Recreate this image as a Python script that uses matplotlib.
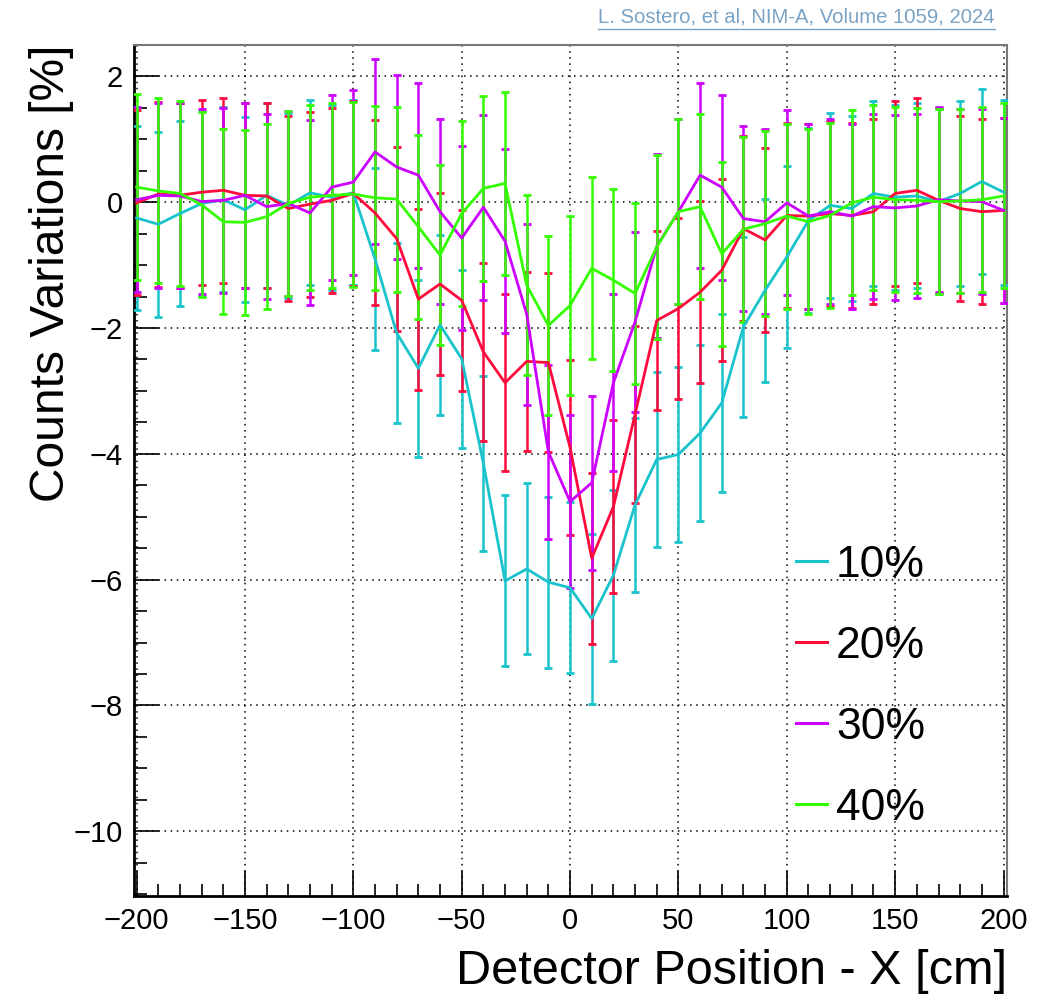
import matplotlib
matplotlib.use("Agg")
import matplotlib.pyplot as plt
from matplotlib.ticker import MultipleLocator
from matplotlib.lines import Line2D

plt.rcParams['font.family'] = ['Liberation Sans', 'DejaVu Sans']

x_pos = list(range(-200, 201, 10))

series_labels = ["10%", "20%", "30%", "40%"]
series_colors = ["#19c3cc", "#ff0a3c", "#cc00ff", "#33ff00"]

v10 = [-0.25, -0.35, -0.18, -0.02, 0.04, -0.12, 0.11, -0.05, 0.15, 0.08,
       0.15, -0.90, -2.08, -2.64, -1.95, -2.49, -4.15, -6.02, -5.83, -6.04,
       -6.13, -6.62, -5.93, -4.81, -4.09, -4.01, -3.67, -3.19, -1.98, -1.40,
       -0.87, -0.29, -0.05, -0.10, 0.14, 0.08, 0.10, 0.01, 0.14, 0.33, 0.16]
e10 = [1.47, 1.47, 1.47, 1.47, 1.47, 1.47, 1.47, 1.47, 1.47, 1.47,
       1.47, 1.45, 1.43, 1.41, 1.43, 1.42, 1.39, 1.36, 1.36, 1.36,
       1.36, 1.35, 1.36, 1.38, 1.39, 1.39, 1.40, 1.41, 1.43, 1.45,
       1.45, 1.47, 1.47, 1.47, 1.47, 1.47, 1.47, 1.47, 1.47, 1.47, 1.47]

v20 = [-0.01, 0.13, 0.11, 0.16, 0.19, 0.11, 0.10, -0.10, -0.03, 0.03,
       0.14, -0.17, -0.58, -1.54, -1.30, -1.56, -2.38, -2.87, -2.53, -2.55,
       -3.90, -5.66, -4.84, -3.37, -1.88, -1.69, -1.43, -1.08, -0.42, -0.60,
       -0.21, -0.22, -0.18, -0.21, -0.15, 0.14, 0.19, 0.03, -0.10, -0.15, -0.13]
e20 = [1.47, 1.47, 1.47, 1.47, 1.47, 1.47, 1.47, 1.47, 1.47, 1.47,
       1.47, 1.47, 1.46, 1.44, 1.45, 1.44, 1.42, 1.41, 1.42, 1.42,
       1.39, 1.36, 1.38, 1.41, 1.43, 1.44, 1.45, 1.45, 1.47, 1.46,
       1.47, 1.47, 1.47, 1.47, 1.47, 1.47, 1.47, 1.47, 1.47, 1.47, 1.47]

v30 = [0.04, 0.11, 0.10, 0.01, 0.03, 0.11, -0.07, -0.02, -0.17, 0.24,
       0.32, 0.80, 0.56, 0.43, -0.15, -0.57, -0.08, -0.62, -1.78, -3.97,
       -4.76, -4.46, -2.87, -1.90, -0.70, -0.15, 0.43, 0.24, -0.26, -0.31,
       -0.01, -0.22, -0.15, -0.22, -0.07, -0.09, -0.06, 0.04, 0.02, 0.01, -0.13]
e30 = [1.47, 1.47, 1.47, 1.47, 1.47, 1.47, 1.47, 1.47, 1.47, 1.47,
       1.47, 1.47, 1.47, 1.47, 1.47, 1.46, 1.47, 1.46, 1.44, 1.39,
       1.38, 1.38, 1.41, 1.43, 1.46, 1.47, 1.47, 1.47, 1.47, 1.47,
       1.47, 1.47, 1.47, 1.47, 1.47, 1.47, 1.47, 1.47, 1.47, 1.47, 1.47]

v40 = [0.24, 0.18, 0.14, -0.04, -0.31, -0.32, -0.23, -0.02, 0.08, 0.11,
       0.13, 0.07, 0.05, -0.39, -0.84, -0.18, 0.22, 0.30, -1.32, -1.96,
       -1.64, -1.05, -1.24, -1.45, -0.71, -0.15, -0.07, -0.82, -0.43, -0.34,
       -0.22, -0.31, -0.21, -0.01, 0.08, 0.04, 0.03, 0.01, 0.02, 0.04, 0.10]
e40 = [1.48, 1.47, 1.47, 1.47, 1.47, 1.47, 1.47, 1.47, 1.47, 1.47,
       1.47, 1.46, 1.47, 1.46, 1.43, 1.47, 1.47, 1.46, 1.43, 1.42,
       1.42, 1.45, 1.45, 1.44, 1.46, 1.47, 1.47, 1.46, 1.47, 1.47,
       1.47, 1.47, 1.47, 1.47, 1.47, 1.47, 1.47, 1.47, 1.47, 1.47, 1.47]

values = [v10, v20, v30, v40]
errors = [e10, e20, e30, e40]

fig = plt.figure(figsize=(10.5, 9.94), dpi=100)
ax = fig.add_axes([134 / 1050, 98 / 994, 873 / 1050, 851 / 994])

for vals, errs, col in zip(values, errors, series_colors):
    ax.errorbar(x_pos, vals, yerr=errs, color=col, lw=2.0, elinewidth=1.8,
                capsize=3.2, capthick=2.0, zorder=3)

ax.set_xlim(-201.2, 201.6)
ax.set_ylim(-11.03, 2.50)
ax.xaxis.set_major_locator(MultipleLocator(50))
ax.xaxis.set_minor_locator(MultipleLocator(10))
ax.yaxis.set_major_locator(MultipleLocator(2))
ax.yaxis.set_minor_locator(MultipleLocator(0.5))
ax.tick_params(which='both', direction='in', top=False, right=False, width=1.2, color='black')
ax.tick_params(which='major', length=18, labelsize=21, pad=8)
ax.tick_params(which='minor', length=9)
ax.grid(True, which='major', color='black', linestyle=(0, (1, 3)), linewidth=1.1)
ax.set_axisbelow(True)
for side in ['left', 'bottom']:
    ax.spines[side].set_linewidth(2.0)
for side in ['top', 'right']:
    ax.spines[side].set_linewidth(1.5)
    ax.spines[side].set_color('#777777')

ax.set_xlabel("Detector Position - X [cm]", fontsize=35, loc='right', labelpad=10)
ax.set_ylabel("Counts Variations [%]", fontsize=34.5, loc='top', labelpad=0)

handles = [Line2D([], [], color=c, lw=2.2) for c in series_colors]
leg = fig.legend(handles, series_labels, loc='upper left',
                 bbox_to_anchor=(796 / 1050, 1 - 545 / 994), frameon=False,
                 fontsize=32, handlelength=0.7, handletextpad=0.2,
                 labelspacing=0.9, borderpad=0, borderaxespad=0)

cite = fig.text(995 / 1050, 1 - 17 / 994, "L. Sostero, et al, NIM-A, Volume 1059, 2024",
                fontsize=14.6, color='#7aa3c4', ha='right', va='center')
fig.canvas.draw()
bb = cite.get_window_extent()
fig.add_artist(Line2D([bb.x0 / 1050, bb.x1 / 1050],
                      [(bb.y0 - 2) / 994, (bb.y0 - 2) / 994],
                      transform=fig.transFigure, color='#7aa3c4', lw=1))

fig.savefig("out.png", dpi=100)
